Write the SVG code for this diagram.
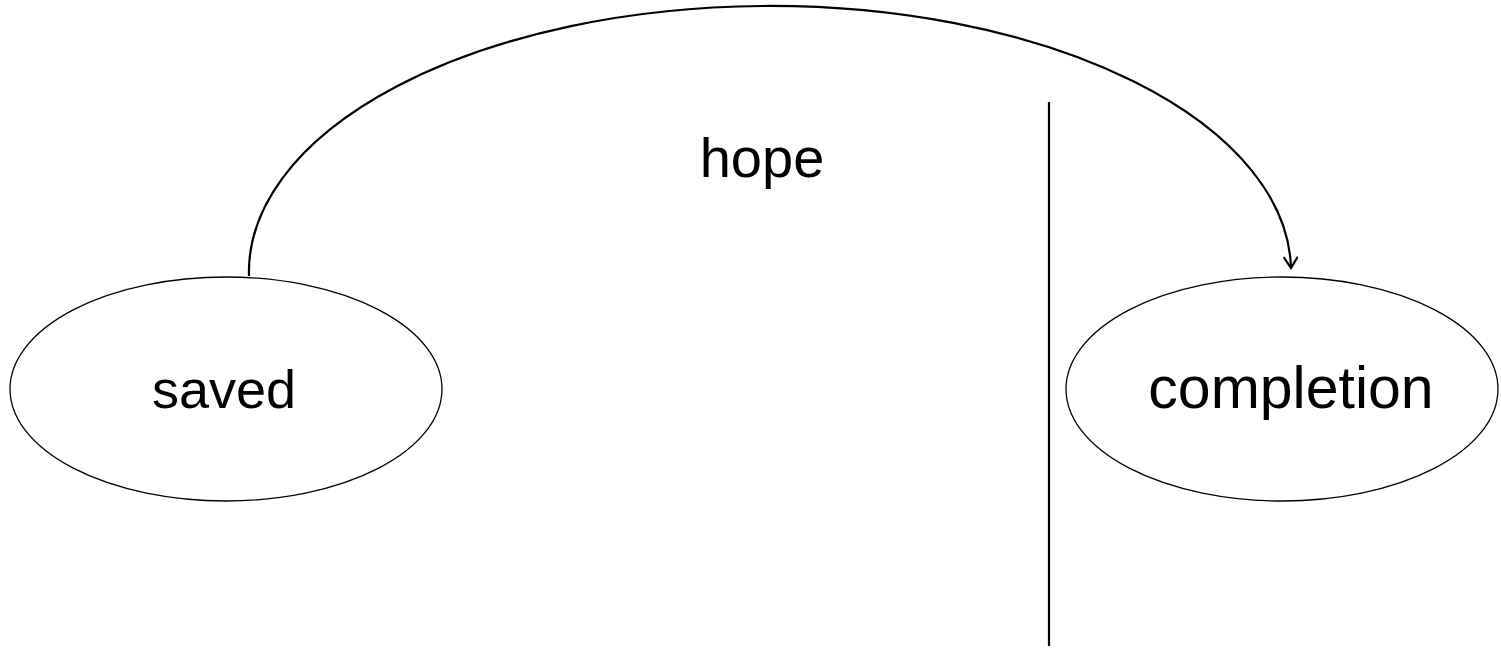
<svg xmlns="http://www.w3.org/2000/svg" width="1501" height="648" viewBox="0 0 1501 648">
<style>
.node{fill:#fff;stroke:#000;stroke-width:1.3}
.lbl{font-family:"Liberation Sans",Arial,sans-serif;font-size:56px;fill:#000;text-anchor:middle}
.conn{fill:none;stroke:#000;stroke-width:2.2}
</style>
<defs>
<marker id="arr" markerWidth="16" markerHeight="16" refX="12" refY="7" orient="auto" markerUnits="userSpaceOnUse">
<path d="M1,0 L12,7 L1,14" fill="none" stroke="#000" stroke-width="2.2"/>
</marker>
</defs>
<rect width="1501" height="648" fill="#fff"/>
<g id="connectors">
<path class="conn" d="M249,276 A521,266 0 0 1 1291,268" marker-end="url(#arr)"/>
<line class="conn" x1="1049" y1="102" x2="1049" y2="646"/>
</g>
<g id="saved">
<ellipse class="node" cx="226" cy="389" rx="216" ry="112"/>
<text class="lbl" x="224" y="408" style="font-size:54px">saved</text>
</g>
<g id="completion">
<ellipse class="node" cx="1282" cy="389" rx="216" ry="112"/>
<text class="lbl" x="1291" y="408" style="font-size:59px">completion</text>
</g>
<g id="hope">
<text class="lbl" x="762" y="177">hope</text>
</g>
</svg>
